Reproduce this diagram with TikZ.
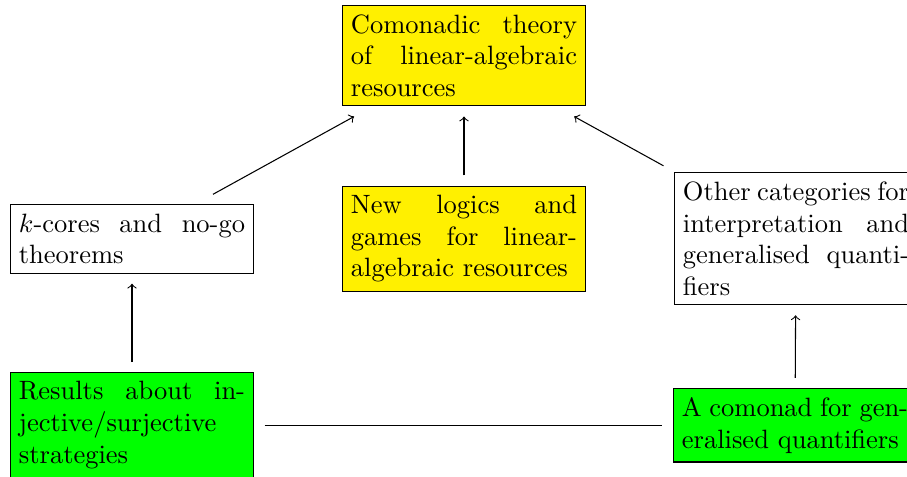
\documentclass[tikz,border=0pt]{standalone}
\definecolor{ylw}{RGB}{255,240,0}
\definecolor{grn}{RGB}{0,255,0}
\tikzset{
  box/.style={draw=black, text width=3cm, align=justify, outer sep=4pt},
  yelbox/.style={box, fill=ylw},
  grnbox/.style={box, fill=grn},
  conn/.style={draw=black, line width=0.4pt},
}
\begin{document}
\begin{tikzpicture}[x=0.3774pt, y=-0.3774pt]
\useasboundingbox (0,0) rectangle (907,476);
\clip (0,0) rectangle (907,476);
\node[yelbox] (com) at (464,55.8) {Comonadic theory of linear-algebraic resources};
\node[box] (kc) at (132,239) {$k$-cores and no-go theorems};
\node[yelbox] (nl) at (464,238.6) {New logics and games for linear-algebraic resources};
\node[box] (oc) at (796,238.7) {Other categories for interpretation and generalised quanti\-fiers};
\node[grnbox] (res) at (132,425.2) {Results about in\-jective/surjective strategies};
\node[grnbox] (acom) at (795,425.2) {A comonad for gen\-eralised quantifiers};
\draw[conn,->] (kc) -- (com);
\draw[conn,->] (nl) -- (com);
\draw[conn,->] (oc) -- (com);
\draw[conn,->] (res) -- (kc);
\draw[conn,->] (acom) -- (oc);
\draw[conn] (res) -- (acom);
\end{tikzpicture}
\end{document}
